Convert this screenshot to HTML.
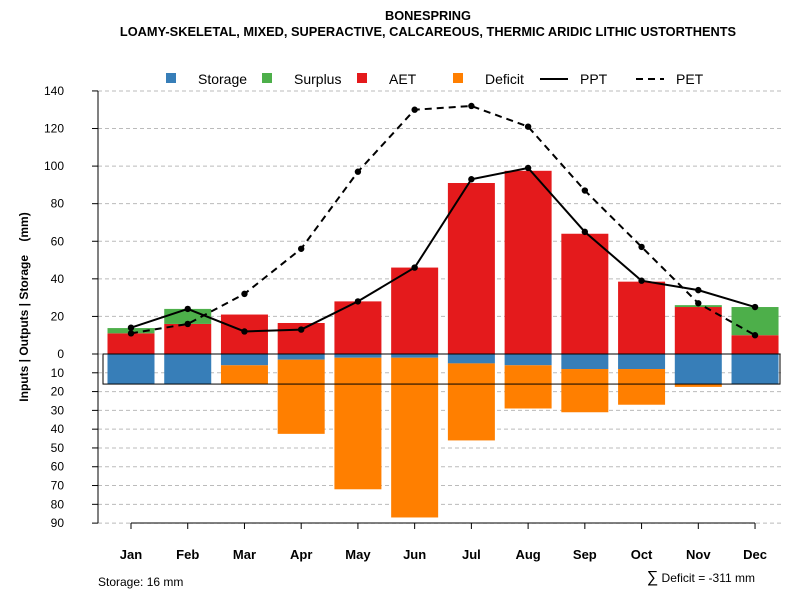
<!DOCTYPE html>
<html><head><meta charset="utf-8"><style>body{margin:0;background:#fff}svg{font-family:"Liberation Sans",sans-serif}</style></head>
<body>
<svg id="c" width="800" height="600" viewBox="0 0 800 600" xmlns="http://www.w3.org/2000/svg">
<text x="428" y="20" text-anchor="middle" font-size="12.8" font-weight="bold">BONESPRING</text>
<text x="428" y="36" text-anchor="middle" font-size="12.8" font-weight="bold">LOAMY-SKELETAL, MIXED, SUPERACTIVE, CALCAREOUS, THERMIC ARIDIC LITHIC USTORTHENTS</text>
<g id="grid"></g><g id="bars"></g><g id="lines"></g><g id="axes"></g>
<g font-size="14">
<rect x="166" y="73" width="10" height="10" fill="#377EB8"/><text x="198" y="84">Storage</text>
<rect x="262" y="73" width="10" height="10" fill="#4DAF4A"/><text x="294" y="84">Surplus</text>
<rect x="357" y="73" width="10" height="10" fill="#E41A1C"/><text x="389" y="84">AET</text>
<rect x="453" y="73" width="10" height="10" fill="#FF7F00"/><text x="485" y="84">Deficit</text>
<line x1="540" y1="79" x2="568" y2="79" stroke="#000" stroke-width="2"/><text x="580" y="84">PPT</text>
<line x1="636" y1="79" x2="664" y2="79" stroke="#000" stroke-width="2" stroke-dasharray="7,5"/><text x="676" y="84">PET</text>
</g>
<text transform="translate(28,307) rotate(-90)" text-anchor="middle" font-size="12" font-weight="bold" xml:space="preserve">Inputs | Outputs | Storage    (mm)</text>
<text x="98" y="586" font-size="12">Storage: 16 mm</text>
<text x="755" y="582" text-anchor="end" font-size="12"><tspan font-size="16">∑</tspan> Deficit = -311 mm</text>
</svg>
<script>
const months=["Jan","Feb","Mar","Apr","May","Jun","Jul","Aug","Sep","Oct","Nov","Dec"];
const storage=[16,16,6,3,2,2,5,6,8,8,16,16];
const deficit=[0,0,10,39.5,70,85,41,23,23,19,1.5,0];
const aet=[11,16,21,16.5,28,46,91,97.5,64,38.5,25,10];
const surplus=[2.8,8,0,0,0,0,0,0,0,0,1,15];
const ppt=[14,24,12,13,28,46,93,99,65,39,34,25];
const pet=[11,16,32,56,97,130,132,121,87,57,27,10];
const posTicks=[0,20,40,60,80,100,120,140];
const negTicks=[10,20,30,40,50,60,70,80,90];
const maxStorage=16;
const NS="http://www.w3.org/2000/svg";
const x=i=>131+i*56.73;
const y=v=>354-v*1.879;
const BW=47;
function mk(p,t,a){const e=document.createElementNS(NS,t);for(const k in a)e.setAttribute(k,a[k]);document.getElementById(p).appendChild(e);return e;}
posTicks.concat(negTicks.map(v=>-v)).forEach(v=>{
 const g=mk("grid","line",{x1:98,x2:782,y1:y(v),y2:y(v),stroke:"#bbb","stroke-dasharray":"4,3"});
 
 
 const tk=mk("axes","line",{x1:92,x2:98,y1:y(v),y2:y(v),stroke:"#000"});
 
 
 const t=mk("axes","text",{x:64,y:y(v)+4,"text-anchor":"end","font-size":12});t.textContent=Math.abs(v);
 
 
});
let a=mk("axes","line",{x1:98,x2:98,y1:y(140),y2:y(-90),stroke:"#000"});


a=mk("axes","line",{x1:x(0),x2:x(11),y1:523,y2:523,stroke:"#000"});


months.forEach((m,i)=>{
 const cx=x(i);
 let r=mk("bars","rect",{x:cx-BW/2,y:y(0),width:BW,height:y(-storage[i])-y(0),fill:"#377EB8"});
 
 
 if(deficit[i]>0){r=mk("bars","rect",{x:cx-BW/2,y:y(-storage[i]),width:BW,height:y(-storage[i]-deficit[i])-y(-storage[i]),fill:"#FF7F00"});
 
 }
 r=mk("bars","rect",{x:cx-BW/2,y:y(aet[i]),width:BW,height:y(0)-y(aet[i]),fill:"#E41A1C"});
 
 
 if(surplus[i]>0){r=mk("bars","rect",{x:cx-BW/2,y:y(aet[i]+surplus[i]),width:BW,height:y(aet[i])-y(aet[i]+surplus[i]),fill:"#4DAF4A"});
 
 }
 const tk=mk("axes","line",{x1:cx,x2:cx,y1:523,y2:529,stroke:"#000"});
 
 
 const t=mk("axes","text",{x:cx,y:559,"text-anchor":"middle","font-size":13,"font-weight":"bold"});t.textContent=m;
 
 
});
const box=mk("bars","rect",{x:103,y:y(0),width:677,height:y(-maxStorage)-y(0),fill:"none",stroke:"#000"});


function series(vals,dash,name){
 const p=mk("lines","polyline",{points:vals.map((v,i)=>x(i)+","+y(v)).join(" "),fill:"none",stroke:"#000","stroke-width":2,"stroke-dasharray":dash});
 
 
 vals.forEach((v,i)=>{const c=mk("lines","circle",{cx:x(i),cy:y(v),r:3.2,fill:"#000"});
 
 });
}
series(ppt,"none","ppt");
series(pet,"7,5","pet");
</script>
</body></html>
